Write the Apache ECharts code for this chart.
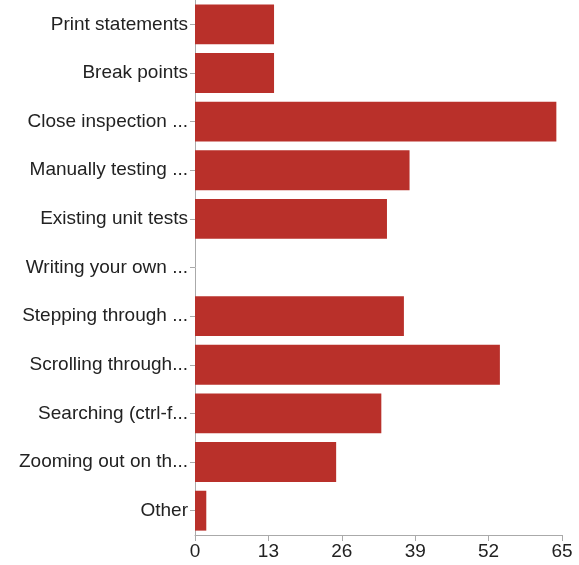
<!DOCTYPE html>
<html>
<head>
<meta charset="utf-8">
<script src="https://cdn.jsdelivr.net/npm/echarts@6/dist/echarts.min.js"></script>
<style>
  html, body { margin: 0; padding: 0; background: #fff; }
  #chart { width: 579px; height: 565px; }
</style>
</head>
<body>
<div id="chart"></div>
<script>
const categories = [
  "Print statements",
  "Break points",
  "Close inspection ...",
  "Manually testing ...",
  "Existing unit tests",
  "Writing your own ...",
  "Stepping through ...",
  "Scrolling through...",
  "Searching (ctrl-f...",
  "Zooming out on th...",
  "Other"
];
const counts = [14, 14, 64, 38, 34, 0, 37, 54, 33, 25, 2];
const xTicks = [0, 13, 26, 39, 52, 65];

let myChart = echarts.init(document.getElementById("chart"));
myChart.setOption({
  animation: false,
  grid: {
    left: 195,
    right: 17,
    top: -3,
    bottom: 30,
    containLabel: false,
  },
  xAxis: {
    type: "value",
    min: 0,
    max: 65,
    interval: 13,
    axisLine: { show: true, lineStyle: { color: "#aaa", width: 1 } },
    axisTick: { show: true, length: 6, lineStyle: { color: "#aaa" } },
    splitLine: { show: false },
    axisLabel: {
      color: "#222",
      fontSize: 19,
      fontFamily: "Liberation Sans",
      margin: 7,
      formatter: (v) => (xTicks.includes(v) ? String(v) : ""),
    },
  },
  yAxis: {
    type: "category",
    data: categories,
    inverse: true,
    axisLine: { show: true, lineStyle: { color: "#aaa", width: 1 } },
    axisTick: { show: true, alignWithLabel: true, length: 5, lineStyle: { color: "#aaa" } },
    axisLabel: {
      color: "#222",
      fontSize: 19,
      fontFamily: "Liberation Sans",
      margin: 7,
    },
  },
  series: [
    {
      type: "bar",
      data: counts,
      barCategoryGap: "18%",
      itemStyle: {
        color: "#b9302a",
        borderWidth: 0,
      },
    },
  ],
});
</script>
</body>
</html>
